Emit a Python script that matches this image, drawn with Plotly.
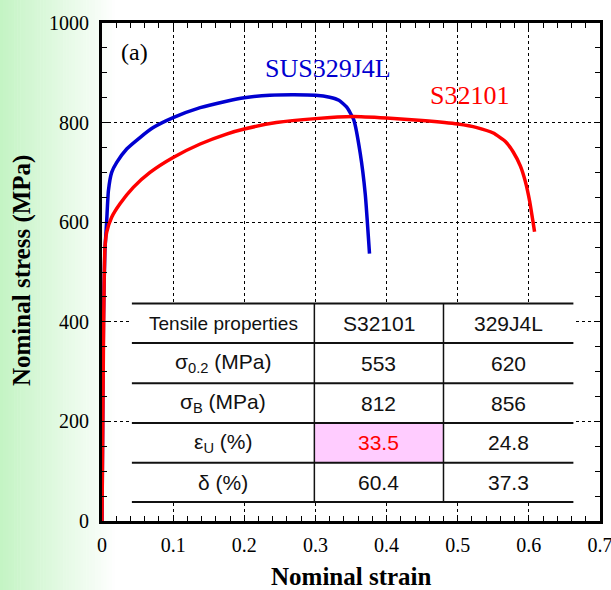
import plotly.graph_objects as go

# Tensile curves (nominal strain, nominal stress in MPa)
sus_strain = [0, 0.002, 0.004, 0.0066, 0.009, 0.0136, 0.0207, 0.0347, 0.0534, 0.072,
              0.1, 0.138, 0.175, 0.2, 0.236, 0.27, 0.3, 0.32, 0.333, 0.344,
              0.354, 0.363, 0.370, 0.376]
sus_stress = [0, 400, 540, 603, 663, 700, 720, 747, 770, 790,
              810, 830, 843, 850, 855, 856, 855, 851, 845, 831,
              805, 738, 657, 537]

s321_strain = [0, 0.002, 0.003, 0.0042, 0.0066, 0.0136, 0.0253, 0.044, 0.0675, 0.1,
               0.138, 0.175, 0.2, 0.245, 0.3, 0.353, 0.4, 0.45, 0.5,
               0.527, 0.55, 0.567, 0.578, 0.588, 0.595, 0.601, 0.608]
s321_stress = [0, 350, 480, 550, 580, 610, 637, 670, 700, 730,
               757, 777, 787, 800, 808, 812, 809, 804, 797,
               790, 779, 762, 741, 713, 682, 643, 581]

# Table of tensile properties
table_header = ["Tensile properties", "S32101", "329J4L"]
prop_labels = ["σ<sub>0.2</sub> (MPa)", "σ<sub>B</sub> (MPa)", "ε<sub>U</sub> (%)", "δ (%)"]
s321_props = ["553", "812", "33.5", "60.4"]
sus_props = ["620", "856", "24.8", "37.3"]

x_ticks = [0, 0.1, 0.2, 0.3, 0.4, 0.5, 0.6, 0.7]
x_tick_text = ["0", "0.1", "0.2", "0.3", "0.4", "0.5", "0.6", "0.7"]

BLUE = "#0000d0"
RED = "#ff0000"
SERIF = "Liberation Serif, Times New Roman, serif"
SANS = "Liberation Sans, Arial, sans-serif"

fig = go.Figure()
fig.add_trace(go.Scatter(x=sus_strain, y=sus_stress, mode="lines",
                         line=dict(color=BLUE, width=3.5, shape="spline", smoothing=0.5),
                         showlegend=False, hoverinfo="skip"))
fig.add_trace(go.Scatter(x=s321_strain, y=s321_stress, mode="lines",
                         line=dict(color=RED, width=3.5, shape="spline", smoothing=0.5),
                         showlegend=False, hoverinfo="skip"))

shapes = []
# pale green band fading in from the left edge of the page
n_strips = 40
fade_px, plot_left, plot_w = 115.0, 102.0, 498.0
for i in range(n_strips):
    x0 = fade_px * i / n_strips
    x1 = fade_px * (i + 1) / n_strips
    t = (i + 0.5) / n_strips
    r = int(196 + (255 - 196) * t)
    g = int(244 + (255 - 244) * t)
    b = int(196 + (255 - 196) * t)
    shapes.append(dict(type="rect", xref="paper", yref="paper", layer="below",
                       x0=(x0 - plot_left) / plot_w, x1=(x1 - plot_left) / plot_w + 0.001,
                       y0=-0.3, y1=1.2, line=dict(width=0),
                       fillcolor=f"rgb({r},{g},{b})"))

# table geometry in data units
col_edges = [0.042, 0.2985, 0.48, 0.6626]
row_edges = [436.5, 357.4, 276.5, 196.8, 116.8, 38.2]

# white table background over the grid
shapes.append(dict(type="rect", xref="x", yref="y", layer="between",
                   x0=col_edges[0], x1=col_edges[-1], y0=row_edges[-1], y1=row_edges[0],
                   fillcolor="white", line=dict(width=0)))
# highlighted cell (uniform elongation of S32101)
shapes.append(dict(type="rect", xref="x", yref="y", layer="between",
                   x0=col_edges[1], x1=col_edges[2], y0=row_edges[4], y1=row_edges[3],
                   fillcolor="#ffccff", line=dict(width=0)))
for yv in row_edges:
    shapes.append(dict(type="line", xref="x", yref="y", x0=col_edges[0], x1=col_edges[-1],
                       y0=yv, y1=yv, line=dict(color="#111111", width=2)))
for xv in col_edges[1:3]:
    shapes.append(dict(type="line", xref="x", yref="y", x0=xv, x1=xv,
                       y0=row_edges[-1], y1=row_edges[0], line=dict(color="#111111", width=1.5)))

annotations = []
col_centers = [(col_edges[i] + col_edges[i + 1]) / 2 for i in range(3)]
row_centers = [(row_edges[i] + row_edges[i + 1]) / 2 for i in range(5)]
for j, txt in enumerate(table_header):
    annotations.append(dict(x=col_centers[j], y=row_centers[0], xref="x", yref="y",
                            text=txt, showarrow=False,
                            font=dict(family=SANS, size=19 if j == 0 else 21, color="#111111")))
for i in range(4):
    cells = [prop_labels[i], s321_props[i], sus_props[i]]
    for j, txt in enumerate(cells):
        color = RED if (i == 2 and j == 1) else "#111111"
        annotations.append(dict(x=col_centers[j], y=row_centers[i + 1], xref="x", yref="y",
                                text=txt, showarrow=False,
                                font=dict(family=SANS, size=21, color=color)))

annotations += [
    dict(x=0.046, y=942, xref="x", yref="y", text="(a)", showarrow=False,
         font=dict(family=SERIF, size=24, color="black")),
    dict(x=0.318, y=908, xref="x", yref="y", text="SUS329J4L", showarrow=False,
         font=dict(family=SERIF, size=26, color=BLUE)),
    dict(x=0.517, y=854, xref="x", yref="y", text="S32101", showarrow=False,
         font=dict(family=SERIF, size=26, color=RED)),
    # axis titles
    dict(x=0.502, y=-0.112, xref="paper", yref="paper", text="<b>Nominal strain</b>",
         xanchor="center", yanchor="middle",
         showarrow=False, font=dict(family=SERIF, size=25, color="black")),
    dict(x=-0.1606, y=0.502, xref="paper", yref="paper", text="<b>Nominal stress (MPa)</b>",
         xanchor="center", yanchor="middle",
         textangle=-90, showarrow=False, font=dict(family=SERIF, size=25, color="black")),
]

axis_common = dict(
    showline=True, linecolor="black", linewidth=3, mirror="allticks",
    ticks="inside", ticklen=6, tickwidth=1, tickcolor="black",
    showgrid=True, gridcolor="black", gridwidth=1, griddash="dot",
    zeroline=False, automargin=False, ticklabeloverflow="allow",
    tickfont=dict(family=SERIF, size=20, color="black"),
)

fig.update_layout(
    width=611, height=590,
    margin=dict(l=102, r=11, t=23, b=69),
    paper_bgcolor="white", plot_bgcolor="rgba(0,0,0,0)",
    shapes=shapes, annotations=annotations,
    xaxis=dict(range=[0, 0.7], tickmode="array", tickvals=x_ticks, ticktext=x_tick_text,
               tickangle=0,
               minor=dict(dtick=0.02, ticks="inside", ticklen=5, tickcolor="black", showgrid=False),
               ticklabelstandoff=4, **axis_common),
    yaxis=dict(range=[0, 1000], dtick=200,
               minor=dict(dtick=50, ticks="inside", ticklen=5, tickcolor="black", showgrid=False),
               ticklabelstandoff=6, **axis_common),
)

fig.write_html("out.html")
